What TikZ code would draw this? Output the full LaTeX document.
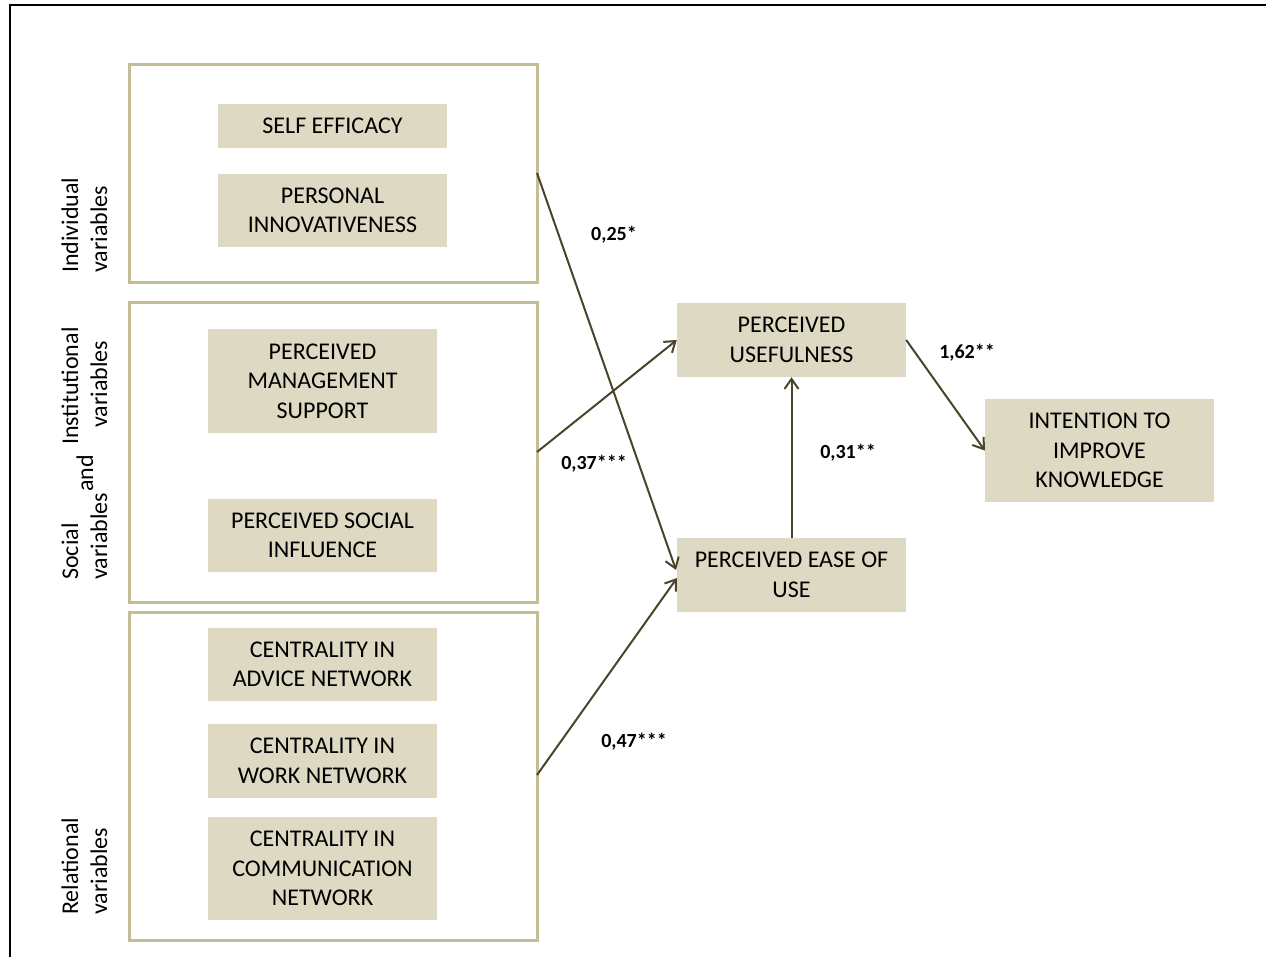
\documentclass[tikz,border=0pt]{standalone}
\usepackage{fontspec}
\setmainfont{Carlito}
\usetikzlibrary{arrows.meta}
\definecolor{boxfill}{HTML}{DDD9C3}
\definecolor{grpline}{HTML}{C4BD97}
\definecolor{arrcol}{HTML}{4A452A}
\begin{document}
\begin{tikzpicture}[x=1pt,y=-1pt,
 box/.style={fill=boxfill, draw=none, minimum width=229pt, align=center, font=\fontsize{24}{29.5}\selectfont, inner sep=0pt},
 grp/.style={draw=grpline, line width=3pt, minimum width=408pt, inner sep=0pt},
 side/.style={rotate=90, anchor=base west, inner sep=0pt, font=\fontsize{24}{29}\selectfont},
 lab/.style={font=\fontsize{20}{24}\selectfont\bfseries, inner sep=0pt},
 conn/.style={draw=arrcol, line width=2pt, -{Straight Barb[length=10pt,width=14pt]}}]
\useasboundingbox (0,0) rectangle (1266,957);
\draw[line width=2.5pt] (10,965) -- (10,5) -- (1275,5);

% group boxes
\node[grp, minimum height=218pt] (g1) at (333,174) {};
\node[grp, minimum height=299pt] (g2) at (333,452.5) {};
\node[grp, minimum height=328pt] (g3) at (333,776) {};

% side labels
\node[side] (s1a) at (78,273) {Individual};
\node[side] (s1b) at (107,273) {variables};
\node[side] (s2a) at (78,580) {Social};
\node[side] (s2b) at (78,445) {Institutional};
\node[side] (s2c) at (107,580) {variables};
\node[side] (s2d) at (93,492) {and};
\node[side] (s2e) at (107,428) {variables};
\node[side] (s3a) at (78,915) {Relational};
\node[side] (s3b) at (107,915) {variables};

% inner boxes
\node[box, minimum height=44pt] (se) at (332.5,126) {SELF EFFICACY};
\node[box, minimum height=73pt] (pi) at (332.5,210.5) {PERSONAL\\INNOVATIVENESS};
\node[box, minimum height=104pt] (pms) at (322.5,381) {PERCEIVED\\MANAGEMENT\\SUPPORT};
\node[box, minimum height=73pt] (psi) at (322.5,535.5) {PERCEIVED SOCIAL\\INFLUENCE};
\node[box, minimum height=73pt] (can) at (322.5,664.5) {CENTRALITY IN\\ADVICE NETWORK};
\node[box, minimum height=74pt] (cwn) at (322.5,761) {CENTRALITY IN\\WORK NETWORK};
\node[box, minimum height=103pt] (ccn) at (322.5,868.5) {CENTRALITY IN\\COMMUNICATION\\NETWORK};
\node[box, minimum height=74pt] (pu) at (791.5,340) {PERCEIVED\\USEFULNESS};
\node[box, minimum height=74pt] (peou) at (791.5,575) {PERCEIVED EASE OF\\USE};
\node[box, minimum height=103pt] (itk) at (1099.5,450.5) {INTENTION TO\\IMPROVE\\KNOWLEDGE};

% connector start points on the group boxes
\coordinate (c1) at (537,173);
\coordinate (c2) at (537,452);
\coordinate (c3) at (537,775);
\coordinate (t1) at (676,570);
\coordinate (t3) at (677,578);

\draw[conn] (c1) -- (t1);
\draw[conn] (c2) -- (pu.west);
\draw[conn] (c3) -- (t3);
\draw[conn] (peou.north) -- (pu.south);
\draw[conn] (pu.east) -- (itk.west);

% labels
\node[lab] (l1) at (614,235) {0,25*};
\node[lab] (l2) at (594,464) {0,37***};
\node[lab] (l3) at (848,453) {0,31**};
\node[lab] (l4) at (967,353) {1,62**};
\node[lab] (l5) at (634,742) {0,47***};
\end{tikzpicture}
\end{document}
